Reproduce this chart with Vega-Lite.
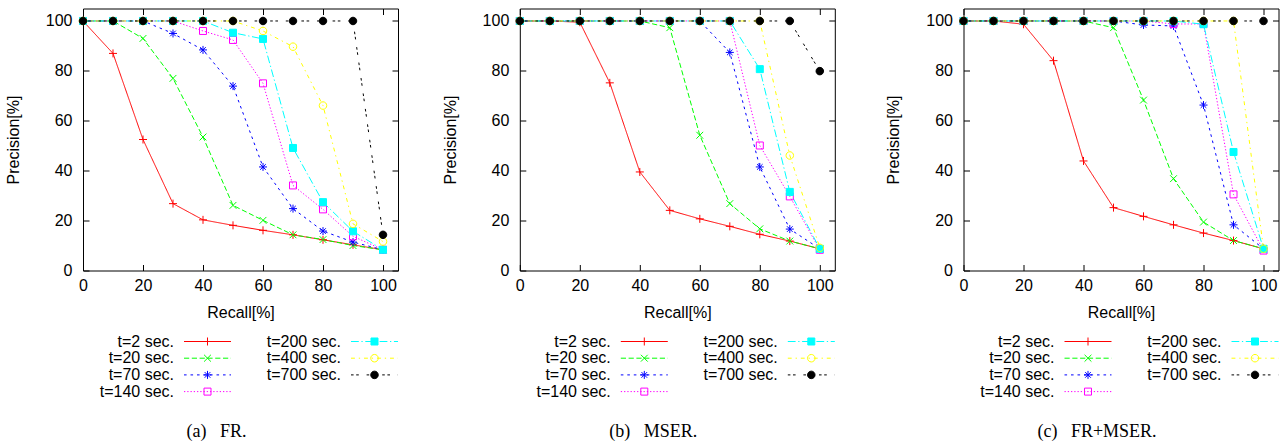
{
"$schema": "https://vega.github.io/schema/vega-lite/v6.json",
"background": "white",
"padding": {"left": 4, "top": 7.5, "right": 0, "bottom": 0},
"datasets": {"pr": [
{"panel":"FR","series":"t=2 sec.","recall":0,"precision":100},{"panel":"FR","series":"t=2 sec.","recall":10,"precision":87},{"panel":"FR","series":"t=2 sec.","recall":20,"precision":52.5},{"panel":"FR","series":"t=2 sec.","recall":30,"precision":26.8},{"panel":"FR","series":"t=2 sec.","recall":40,"precision":20.3},{"panel":"FR","series":"t=2 sec.","recall":50,"precision":18.1},{"panel":"FR","series":"t=2 sec.","recall":60,"precision":16.1},{"panel":"FR","series":"t=2 sec.","recall":70,"precision":14.3},{"panel":"FR","series":"t=2 sec.","recall":80,"precision":12.3},{"panel":"FR","series":"t=2 sec.","recall":90,"precision":10.3},{"panel":"FR","series":"t=2 sec.","recall":100,"precision":8.3},
{"panel":"FR","series":"t=20 sec.","recall":0,"precision":100},{"panel":"FR","series":"t=20 sec.","recall":10,"precision":100},{"panel":"FR","series":"t=20 sec.","recall":20,"precision":93},{"panel":"FR","series":"t=20 sec.","recall":30,"precision":77},{"panel":"FR","series":"t=20 sec.","recall":40,"precision":53.5},{"panel":"FR","series":"t=20 sec.","recall":50,"precision":26.1},{"panel":"FR","series":"t=20 sec.","recall":60,"precision":20.1},{"panel":"FR","series":"t=20 sec.","recall":70,"precision":14.3},{"panel":"FR","series":"t=20 sec.","recall":80,"precision":12.4},{"panel":"FR","series":"t=20 sec.","recall":90,"precision":10},{"panel":"FR","series":"t=20 sec.","recall":100,"precision":8.3},
{"panel":"FR","series":"t=70 sec.","recall":0,"precision":100},{"panel":"FR","series":"t=70 sec.","recall":10,"precision":100},{"panel":"FR","series":"t=70 sec.","recall":20,"precision":100},{"panel":"FR","series":"t=70 sec.","recall":30,"precision":95},{"panel":"FR","series":"t=70 sec.","recall":40,"precision":88.4},{"panel":"FR","series":"t=70 sec.","recall":50,"precision":73.9},{"panel":"FR","series":"t=70 sec.","recall":60,"precision":41.5},{"panel":"FR","series":"t=70 sec.","recall":70,"precision":24.8},{"panel":"FR","series":"t=70 sec.","recall":80,"precision":15.8},{"panel":"FR","series":"t=70 sec.","recall":90,"precision":11.4},{"panel":"FR","series":"t=70 sec.","recall":100,"precision":8.3},
{"panel":"FR","series":"t=140 sec.","recall":0,"precision":100},{"panel":"FR","series":"t=140 sec.","recall":10,"precision":100},{"panel":"FR","series":"t=140 sec.","recall":20,"precision":100},{"panel":"FR","series":"t=140 sec.","recall":30,"precision":100},{"panel":"FR","series":"t=140 sec.","recall":40,"precision":96},{"panel":"FR","series":"t=140 sec.","recall":50,"precision":92.4},{"panel":"FR","series":"t=140 sec.","recall":60,"precision":75},{"panel":"FR","series":"t=140 sec.","recall":70,"precision":34.1},{"panel":"FR","series":"t=140 sec.","recall":80,"precision":24.5},{"panel":"FR","series":"t=140 sec.","recall":90,"precision":13.7},{"panel":"FR","series":"t=140 sec.","recall":100,"precision":8.3},
{"panel":"FR","series":"t=200 sec.","recall":0,"precision":100},{"panel":"FR","series":"t=200 sec.","recall":10,"precision":100},{"panel":"FR","series":"t=200 sec.","recall":20,"precision":100},{"panel":"FR","series":"t=200 sec.","recall":30,"precision":100},{"panel":"FR","series":"t=200 sec.","recall":40,"precision":100},{"panel":"FR","series":"t=200 sec.","recall":50,"precision":95.3},{"panel":"FR","series":"t=200 sec.","recall":60,"precision":92.8},{"panel":"FR","series":"t=200 sec.","recall":70,"precision":49.1},{"panel":"FR","series":"t=200 sec.","recall":80,"precision":27.4},{"panel":"FR","series":"t=200 sec.","recall":90,"precision":15.7},{"panel":"FR","series":"t=200 sec.","recall":100,"precision":8.3},
{"panel":"FR","series":"t=400 sec.","recall":0,"precision":100},{"panel":"FR","series":"t=400 sec.","recall":10,"precision":100},{"panel":"FR","series":"t=400 sec.","recall":20,"precision":100},{"panel":"FR","series":"t=400 sec.","recall":30,"precision":100},{"panel":"FR","series":"t=400 sec.","recall":40,"precision":100},{"panel":"FR","series":"t=400 sec.","recall":50,"precision":100},{"panel":"FR","series":"t=400 sec.","recall":60,"precision":96},{"panel":"FR","series":"t=400 sec.","recall":70,"precision":89.7},{"panel":"FR","series":"t=400 sec.","recall":80,"precision":66.1},{"panel":"FR","series":"t=400 sec.","recall":90,"precision":18.7},{"panel":"FR","series":"t=400 sec.","recall":100,"precision":11.6},
{"panel":"FR","series":"t=700 sec.","recall":0,"precision":100},{"panel":"FR","series":"t=700 sec.","recall":10,"precision":100},{"panel":"FR","series":"t=700 sec.","recall":20,"precision":100},{"panel":"FR","series":"t=700 sec.","recall":30,"precision":100},{"panel":"FR","series":"t=700 sec.","recall":40,"precision":100},{"panel":"FR","series":"t=700 sec.","recall":50,"precision":100},{"panel":"FR","series":"t=700 sec.","recall":60,"precision":100},{"panel":"FR","series":"t=700 sec.","recall":70,"precision":100},{"panel":"FR","series":"t=700 sec.","recall":80,"precision":100},{"panel":"FR","series":"t=700 sec.","recall":90,"precision":100},{"panel":"FR","series":"t=700 sec.","recall":100,"precision":14.3},
{"panel":"MSER","series":"t=2 sec.","recall":0,"precision":100},{"panel":"MSER","series":"t=2 sec.","recall":10,"precision":100},{"panel":"MSER","series":"t=2 sec.","recall":20,"precision":99.5},{"panel":"MSER","series":"t=2 sec.","recall":30,"precision":75.2},{"panel":"MSER","series":"t=2 sec.","recall":40,"precision":39.5},{"panel":"MSER","series":"t=2 sec.","recall":50,"precision":24.1},{"panel":"MSER","series":"t=2 sec.","recall":60,"precision":20.7},{"panel":"MSER","series":"t=2 sec.","recall":70,"precision":17.7},{"panel":"MSER","series":"t=2 sec.","recall":80,"precision":14.5},{"panel":"MSER","series":"t=2 sec.","recall":90,"precision":11.8},{"panel":"MSER","series":"t=2 sec.","recall":100,"precision":8.7},
{"panel":"MSER","series":"t=20 sec.","recall":0,"precision":100},{"panel":"MSER","series":"t=20 sec.","recall":10,"precision":100},{"panel":"MSER","series":"t=20 sec.","recall":20,"precision":100},{"panel":"MSER","series":"t=20 sec.","recall":30,"precision":100},{"panel":"MSER","series":"t=20 sec.","recall":40,"precision":100},{"panel":"MSER","series":"t=20 sec.","recall":50,"precision":97.3},{"panel":"MSER","series":"t=20 sec.","recall":60,"precision":54.2},{"panel":"MSER","series":"t=20 sec.","recall":70,"precision":26.8},{"panel":"MSER","series":"t=20 sec.","recall":80,"precision":16.7},{"panel":"MSER","series":"t=20 sec.","recall":90,"precision":11.8},{"panel":"MSER","series":"t=20 sec.","recall":100,"precision":8.7},
{"panel":"MSER","series":"t=70 sec.","recall":0,"precision":100},{"panel":"MSER","series":"t=70 sec.","recall":10,"precision":100},{"panel":"MSER","series":"t=70 sec.","recall":20,"precision":100},{"panel":"MSER","series":"t=70 sec.","recall":30,"precision":100},{"panel":"MSER","series":"t=70 sec.","recall":40,"precision":100},{"panel":"MSER","series":"t=70 sec.","recall":50,"precision":100},{"panel":"MSER","series":"t=70 sec.","recall":60,"precision":100},{"panel":"MSER","series":"t=70 sec.","recall":70,"precision":87.4},{"panel":"MSER","series":"t=70 sec.","recall":80,"precision":41.5},{"panel":"MSER","series":"t=70 sec.","recall":90,"precision":16.6},{"panel":"MSER","series":"t=70 sec.","recall":100,"precision":8.7},
{"panel":"MSER","series":"t=140 sec.","recall":0,"precision":100},{"panel":"MSER","series":"t=140 sec.","recall":10,"precision":100},{"panel":"MSER","series":"t=140 sec.","recall":20,"precision":100},{"panel":"MSER","series":"t=140 sec.","recall":30,"precision":100},{"panel":"MSER","series":"t=140 sec.","recall":40,"precision":100},{"panel":"MSER","series":"t=140 sec.","recall":50,"precision":100},{"panel":"MSER","series":"t=140 sec.","recall":60,"precision":100},{"panel":"MSER","series":"t=140 sec.","recall":70,"precision":100},{"panel":"MSER","series":"t=140 sec.","recall":80,"precision":50.1},{"panel":"MSER","series":"t=140 sec.","recall":90,"precision":29.7},{"panel":"MSER","series":"t=140 sec.","recall":100,"precision":8.3},
{"panel":"MSER","series":"t=200 sec.","recall":0,"precision":100},{"panel":"MSER","series":"t=200 sec.","recall":10,"precision":100},{"panel":"MSER","series":"t=200 sec.","recall":20,"precision":100},{"panel":"MSER","series":"t=200 sec.","recall":30,"precision":100},{"panel":"MSER","series":"t=200 sec.","recall":40,"precision":100},{"panel":"MSER","series":"t=200 sec.","recall":50,"precision":100},{"panel":"MSER","series":"t=200 sec.","recall":60,"precision":100},{"panel":"MSER","series":"t=200 sec.","recall":70,"precision":100},{"panel":"MSER","series":"t=200 sec.","recall":80,"precision":80.7},{"panel":"MSER","series":"t=200 sec.","recall":90,"precision":31.5},{"panel":"MSER","series":"t=200 sec.","recall":100,"precision":8.7},
{"panel":"MSER","series":"t=400 sec.","recall":0,"precision":100},{"panel":"MSER","series":"t=400 sec.","recall":10,"precision":100},{"panel":"MSER","series":"t=400 sec.","recall":20,"precision":100},{"panel":"MSER","series":"t=400 sec.","recall":30,"precision":100},{"panel":"MSER","series":"t=400 sec.","recall":40,"precision":100},{"panel":"MSER","series":"t=400 sec.","recall":50,"precision":100},{"panel":"MSER","series":"t=400 sec.","recall":60,"precision":100},{"panel":"MSER","series":"t=400 sec.","recall":70,"precision":100},{"panel":"MSER","series":"t=400 sec.","recall":80,"precision":100},{"panel":"MSER","series":"t=400 sec.","recall":90,"precision":46.1},{"panel":"MSER","series":"t=400 sec.","recall":100,"precision":9.1},
{"panel":"MSER","series":"t=700 sec.","recall":0,"precision":100},{"panel":"MSER","series":"t=700 sec.","recall":10,"precision":100},{"panel":"MSER","series":"t=700 sec.","recall":20,"precision":100},{"panel":"MSER","series":"t=700 sec.","recall":30,"precision":100},{"panel":"MSER","series":"t=700 sec.","recall":40,"precision":100},{"panel":"MSER","series":"t=700 sec.","recall":50,"precision":100},{"panel":"MSER","series":"t=700 sec.","recall":60,"precision":100},{"panel":"MSER","series":"t=700 sec.","recall":70,"precision":100},{"panel":"MSER","series":"t=700 sec.","recall":80,"precision":100},{"panel":"MSER","series":"t=700 sec.","recall":90,"precision":100},{"panel":"MSER","series":"t=700 sec.","recall":100,"precision":79.9},
{"panel":"FRM","series":"t=2 sec.","recall":0,"precision":100},{"panel":"FRM","series":"t=2 sec.","recall":10,"precision":100},{"panel":"FRM","series":"t=2 sec.","recall":20,"precision":98.7},{"panel":"FRM","series":"t=2 sec.","recall":30,"precision":84.1},{"panel":"FRM","series":"t=2 sec.","recall":40,"precision":43.9},{"panel":"FRM","series":"t=2 sec.","recall":50,"precision":25.2},{"panel":"FRM","series":"t=2 sec.","recall":60,"precision":21.7},{"panel":"FRM","series":"t=2 sec.","recall":70,"precision":18.3},{"panel":"FRM","series":"t=2 sec.","recall":80,"precision":15},{"panel":"FRM","series":"t=2 sec.","recall":90,"precision":12},{"panel":"FRM","series":"t=2 sec.","recall":100,"precision":8.7},
{"panel":"FRM","series":"t=20 sec.","recall":0,"precision":100},{"panel":"FRM","series":"t=20 sec.","recall":10,"precision":100},{"panel":"FRM","series":"t=20 sec.","recall":20,"precision":100},{"panel":"FRM","series":"t=20 sec.","recall":30,"precision":100},{"panel":"FRM","series":"t=20 sec.","recall":40,"precision":100},{"panel":"FRM","series":"t=20 sec.","recall":50,"precision":97.3},{"panel":"FRM","series":"t=20 sec.","recall":60,"precision":68.3},{"panel":"FRM","series":"t=20 sec.","recall":70,"precision":36.8},{"panel":"FRM","series":"t=20 sec.","recall":80,"precision":19.4},{"panel":"FRM","series":"t=20 sec.","recall":90,"precision":12},{"panel":"FRM","series":"t=20 sec.","recall":100,"precision":8.7},
{"panel":"FRM","series":"t=70 sec.","recall":0,"precision":100},{"panel":"FRM","series":"t=70 sec.","recall":10,"precision":100},{"panel":"FRM","series":"t=70 sec.","recall":20,"precision":100},{"panel":"FRM","series":"t=70 sec.","recall":30,"precision":100},{"panel":"FRM","series":"t=70 sec.","recall":40,"precision":100},{"panel":"FRM","series":"t=70 sec.","recall":50,"precision":100},{"panel":"FRM","series":"t=70 sec.","recall":60,"precision":98.4},{"panel":"FRM","series":"t=70 sec.","recall":70,"precision":98},{"panel":"FRM","series":"t=70 sec.","recall":80,"precision":66.3},{"panel":"FRM","series":"t=70 sec.","recall":90,"precision":18.3},{"panel":"FRM","series":"t=70 sec.","recall":100,"precision":8.7},
{"panel":"FRM","series":"t=140 sec.","recall":0,"precision":100},{"panel":"FRM","series":"t=140 sec.","recall":10,"precision":100},{"panel":"FRM","series":"t=140 sec.","recall":20,"precision":100},{"panel":"FRM","series":"t=140 sec.","recall":30,"precision":100},{"panel":"FRM","series":"t=140 sec.","recall":40,"precision":100},{"panel":"FRM","series":"t=140 sec.","recall":50,"precision":100},{"panel":"FRM","series":"t=140 sec.","recall":60,"precision":100},{"panel":"FRM","series":"t=140 sec.","recall":70,"precision":98.8},{"panel":"FRM","series":"t=140 sec.","recall":80,"precision":98.8},{"panel":"FRM","series":"t=140 sec.","recall":90,"precision":30.5},{"panel":"FRM","series":"t=140 sec.","recall":100,"precision":8},
{"panel":"FRM","series":"t=200 sec.","recall":0,"precision":100},{"panel":"FRM","series":"t=200 sec.","recall":10,"precision":100},{"panel":"FRM","series":"t=200 sec.","recall":20,"precision":100},{"panel":"FRM","series":"t=200 sec.","recall":30,"precision":100},{"panel":"FRM","series":"t=200 sec.","recall":40,"precision":100},{"panel":"FRM","series":"t=200 sec.","recall":50,"precision":100},{"panel":"FRM","series":"t=200 sec.","recall":60,"precision":100},{"panel":"FRM","series":"t=200 sec.","recall":70,"precision":100},{"panel":"FRM","series":"t=200 sec.","recall":80,"precision":98.7},{"panel":"FRM","series":"t=200 sec.","recall":90,"precision":47.5},{"panel":"FRM","series":"t=200 sec.","recall":100,"precision":8.7},
{"panel":"FRM","series":"t=400 sec.","recall":0,"precision":100},{"panel":"FRM","series":"t=400 sec.","recall":10,"precision":100},{"panel":"FRM","series":"t=400 sec.","recall":20,"precision":100},{"panel":"FRM","series":"t=400 sec.","recall":30,"precision":100},{"panel":"FRM","series":"t=400 sec.","recall":40,"precision":100},{"panel":"FRM","series":"t=400 sec.","recall":50,"precision":100},{"panel":"FRM","series":"t=400 sec.","recall":60,"precision":100},{"panel":"FRM","series":"t=400 sec.","recall":70,"precision":100},{"panel":"FRM","series":"t=400 sec.","recall":80,"precision":100},{"panel":"FRM","series":"t=400 sec.","recall":90,"precision":100},{"panel":"FRM","series":"t=400 sec.","recall":100,"precision":8.7},
{"panel":"FRM","series":"t=700 sec.","recall":0,"precision":100},{"panel":"FRM","series":"t=700 sec.","recall":10,"precision":100},{"panel":"FRM","series":"t=700 sec.","recall":20,"precision":100},{"panel":"FRM","series":"t=700 sec.","recall":30,"precision":100},{"panel":"FRM","series":"t=700 sec.","recall":40,"precision":100},{"panel":"FRM","series":"t=700 sec.","recall":50,"precision":100},{"panel":"FRM","series":"t=700 sec.","recall":60,"precision":100},{"panel":"FRM","series":"t=700 sec.","recall":70,"precision":100},{"panel":"FRM","series":"t=700 sec.","recall":80,"precision":100},{"panel":"FRM","series":"t=700 sec.","recall":90,"precision":100},{"panel":"FRM","series":"t=700 sec.","recall":100,"precision":100}
]},
"hconcat": [
 {"hconcat": [
  {"width": 315, "height": 262,
   "title": {"text": "(a)\u2002 FR.", "orient": "bottom", "anchor": "middle", "frame": "group", "font": "Liberation Serif", "fontSize": 18, "fontWeight": "normal", "color": "black", "offset": 22, "dx": -24},
   "data": {"name": "pr"},
   "transform": [{"filter": "datum.panel === 'FR'"}],
   "resolve": {"scale": {"shape": "independent", "stroke": "independent", "fill": "independent"}, "legend": {"shape": "independent", "stroke": "independent", "fill": "independent"}, "axis": {"x": "independent", "y": "independent"}},
   "layer": [
    {"mark": {"type": "line", "strokeWidth": 1},
     "encoding": {
      "x": {"field": "recall", "type": "quantitative", "scale": {"domain": [0, 105], "nice": false, "zero": false}, "axis": {"orient": "bottom", "values": [0, 20, 40, 60, 80, 100], "title": "Recall[%]", "labelPadding": 13, "titlePadding": 11, "labelFlush": false}},
      "y": {"field": "precision", "type": "quantitative", "scale": {"domain": [0, 105], "nice": false, "zero": false}, "axis": {"orient": "left", "values": [0, 20, 40, 60, 80, 100], "title": "Precision[%]", "labelPadding": 17, "titlePadding": 24}},
      "color": {"field": "series", "type": "nominal", "scale": {"domain": ["t=2 sec.", "t=20 sec.", "t=70 sec.", "t=140 sec.", "t=200 sec.", "t=400 sec.", "t=700 sec."], "range": ["#ff0000", "#00ff00", "#0000ff", "#ff00ff", "#00ffff", "#ffff00", "#000000"]}, "legend": null},
      "strokeDash": {"field": "series", "type": "nominal", "scale": {"domain": ["t=2 sec.", "t=20 sec.", "t=70 sec.", "t=140 sec.", "t=200 sec.", "t=400 sec.", "t=700 sec."], "range": [[1, 0], [5.2, 2.6], [2.6, 3.9], [1.3, 1.95], [7.8, 2.6, 1.3, 2.6], [3.9, 3.9, 1.3, 3.9], [2.6, 2.6, 2.6, 7.8]]}, "legend": null}
     }},
    {"mark": {"type": "point", "size": 64, "strokeWidth": 1, "opacity": 1},
     "encoding": {
      "x": {"field": "recall", "type": "quantitative", "axis": {"orient": "top", "values": [0, 20, 40, 60, 80, 100], "labels": false, "title": null}},
      "y": {"field": "precision", "type": "quantitative", "axis": {"orient": "right", "values": [0, 20, 40, 60, 80, 100], "labels": false, "title": null}},
      "stroke": {"field": "series", "type": "nominal", "scale": {"domain": ["t=2 sec.", "t=20 sec.", "t=70 sec.", "t=140 sec.", "t=200 sec.", "t=400 sec.", "t=700 sec."], "range": ["#ff0000", "#00ff00", "#0000ff", "#ff00ff", "#00ffff", "#ffff00", "#000000"]}, "legend": null},
      "fill": {"field": "series", "type": "nominal", "scale": {"domain": ["t=2 sec.", "t=20 sec.", "t=70 sec.", "t=140 sec.", "t=200 sec.", "t=400 sec.", "t=700 sec."], "range": ["transparent", "transparent", "transparent", "transparent", "#00ffff", "transparent", "#000000"]}, "legend": null},
      "shape": {"field": "series", "type": "nominal", "scale": {"domain": ["t=2 sec.", "t=20 sec.", "t=70 sec.", "t=140 sec.", "t=200 sec.", "t=400 sec.", "t=700 sec."], "range": ["M-1,0L1,0M0,-1L0,1", "M-0.85,-0.85L0.85,0.85M-0.85,0.85L0.85,-0.85", "M-1,0L1,0M0,-1L0,1M-0.7,-0.7L0.7,0.7M-0.7,0.7L0.7,-0.7", "M-0.875,-0.875L0.875,-0.875L0.875,0.875L-0.875,0.875Z", "M-0.875,-0.875L0.875,-0.875L0.875,0.875L-0.875,0.875Z", "M0.94,0A0.94,0.94,0,1,1,-0.94,0A0.94,0.94,0,1,1,0.94,0Z", "M0.94,0A0.94,0.94,0,1,1,-0.94,0A0.94,0.94,0,1,1,0.94,0Z"]}, "legend": null}
     }},
    {"transform": [{"filter": "false"}],
     "mark": {"type": "point", "size": 88.36, "strokeWidth": 1, "opacity": 1},
     "encoding": {
      "shape": {"field": "series", "type": "nominal", "scale": {"domain": ["t=2 sec.", "t=20 sec.", "t=70 sec.", "t=140 sec.", "t=200 sec.", "t=400 sec.", "t=700 sec."], "range": [
        "M-24.255,0M5,0M-5,0L5,0M-0.85,0L0.85,0M0,-0.85L0,0.85",
        "M-24.255,0M5,0M-5,0L-3.895,0M-3.34,0L-2.235,0M-1.68,0L-0.575,0M-0.02,0L1.085,0M1.64,0L2.745,0M3.3,0L4.405,0M4.955,0L5,0M-0.725,-0.725L0.725,0.725M-0.725,0.725L0.725,-0.725",
        "M-24.255,0M5,0M-5,0L-4.445,0M-3.615,0L-3.065,0M-2.235,0L-1.68,0M-0.85,0L-0.3,0M0.53,0L1.085,0M1.915,0L2.47,0M3.3,0L3.85,0M4.68,0L5,0M-0.85,0L0.85,0M0,-0.85L0,0.85M-0.6,-0.6L0.6,0.6M-0.6,0.6L0.6,-0.6",
        "M-24.255,0M5,0M-5,0L-4.725,0M-4.31,0L-4.03,0M-3.615,0L-3.34,0M-2.925,0L-2.65,0M-2.235,0L-1.955,0M-1.545,0L-1.265,0M-0.85,0L-0.575,0M-0.16,0L0.115,0M0.53,0L0.81,0M1.225,0L1.5,0M1.915,0L2.19,0M2.605,0L2.885,0M3.3,0L3.575,0M3.99,0L4.265,0M4.68,0L4.955,0M-0.745,-0.745L0.745,-0.745L0.745,0.745L-0.745,0.745Z",
        "M-24.255,0M5,0M-5,0L-3.34,0M-2.785,0L-2.51,0M-1.955,0L-0.3,0M0.255,0L0.53,0M1.085,0L2.745,0M3.3,0L3.575,0M4.13,0L5,0M-0.745,-0.745L0.745,-0.745L0.745,0.745L-0.745,0.745Z",
        "M-24.255,0M5,0M-5,0L-4.17,0M-3.34,0L-3.065,0M-2.235,0L-1.405,0M-0.575,0L-0.3,0M0.53,0L1.36,0M2.19,0L2.47,0M3.3,0L4.13,0M4.955,0L5,0M0.8,0A0.8,0.8,0,1,1,-0.8,0A0.8,0.8,0,1,1,0.8,0Z",
        "M-24.255,0M5,0M-5,0L-4.445,0M-3.895,0L-3.34,0M-1.68,0L-1.13,0M-0.575,0L-0.02,0M1.64,0L2.19,0M2.745,0L3.3,0M4.955,0L5,0M0.8,0A0.8,0.8,0,1,1,-0.8,0A0.8,0.8,0,1,1,0.8,0Z"]},
       "legend": {"orient": "none", "legendX": 116.5, "legendY": 325, "columns": 2, "direction": "vertical", "title": null, "padding": 0, "symbolSize": 88.36, "symbolStrokeWidth": 1, "symbolOffset": 0, "labelFont": "Liberation Sans", "labelFontSize": 16, "labelColor": "black", "labelAlign": "right", "labelOffset": -41.5, "labelLimit": 300, "rowPadding": 0.7, "columnPadding": 25}},
      "stroke": {"field": "series", "type": "nominal", "scale": {"domain": ["t=2 sec.", "t=20 sec.", "t=70 sec.", "t=140 sec.", "t=200 sec.", "t=400 sec.", "t=700 sec."], "range": ["#ff0000", "#00ff00", "#0000ff", "#ff00ff", "#00ffff", "#ffff00", "#000000"]},
       "legend": {"orient": "none", "legendX": 116.5, "legendY": 325, "columns": 2, "direction": "vertical", "title": null, "padding": 0, "symbolSize": 88.36, "symbolStrokeWidth": 1, "symbolOffset": 0, "labelFont": "Liberation Sans", "labelFontSize": 16, "labelColor": "black", "labelAlign": "right", "labelOffset": -41.5, "labelLimit": 300, "rowPadding": 0.7, "columnPadding": 25}},
      "fill": {"field": "series", "type": "nominal", "scale": {"domain": ["t=2 sec.", "t=20 sec.", "t=70 sec.", "t=140 sec.", "t=200 sec.", "t=400 sec.", "t=700 sec."], "range": ["transparent", "transparent", "transparent", "transparent", "#00ffff", "transparent", "#000000"]},
       "legend": {"orient": "none", "legendX": 116.5, "legendY": 325, "columns": 2, "direction": "vertical", "title": null, "padding": 0, "symbolSize": 88.36, "symbolStrokeWidth": 1, "symbolOffset": 0, "labelFont": "Liberation Sans", "labelFontSize": 16, "labelColor": "black", "labelAlign": "right", "labelOffset": -41.5, "labelLimit": 300, "rowPadding": 0.7, "columnPadding": 25}}
     }}
   ]},
  {"width": 315, "height": 262,
   "title": {"text": "(b)\u2002 MSER.", "orient": "bottom", "anchor": "middle", "frame": "group", "font": "Liberation Serif", "fontSize": 18, "fontWeight": "normal", "color": "black", "offset": 22, "dx": -24},
   "data": {"name": "pr"},
   "transform": [{"filter": "datum.panel === 'MSER'"}],
   "resolve": {"scale": {"shape": "independent", "stroke": "independent", "fill": "independent"}, "legend": {"shape": "independent", "stroke": "independent", "fill": "independent"}, "axis": {"x": "independent", "y": "independent"}},
   "layer": [
    {"mark": {"type": "line", "strokeWidth": 1},
     "encoding": {
      "x": {"field": "recall", "type": "quantitative", "scale": {"domain": [0, 105], "nice": false, "zero": false}, "axis": {"orient": "bottom", "values": [0, 20, 40, 60, 80, 100], "title": "Recall[%]", "labelPadding": 13, "titlePadding": 11, "labelFlush": false}},
      "y": {"field": "precision", "type": "quantitative", "scale": {"domain": [0, 105], "nice": false, "zero": false}, "axis": {"orient": "left", "values": [0, 20, 40, 60, 80, 100], "title": "Precision[%]", "labelPadding": 17, "titlePadding": 24}},
      "color": {"field": "series", "type": "nominal", "scale": {"domain": ["t=2 sec.", "t=20 sec.", "t=70 sec.", "t=140 sec.", "t=200 sec.", "t=400 sec.", "t=700 sec."], "range": ["#ff0000", "#00ff00", "#0000ff", "#ff00ff", "#00ffff", "#ffff00", "#000000"]}, "legend": null},
      "strokeDash": {"field": "series", "type": "nominal", "scale": {"domain": ["t=2 sec.", "t=20 sec.", "t=70 sec.", "t=140 sec.", "t=200 sec.", "t=400 sec.", "t=700 sec."], "range": [[1, 0], [5.2, 2.6], [2.6, 3.9], [1.3, 1.95], [7.8, 2.6, 1.3, 2.6], [3.9, 3.9, 1.3, 3.9], [2.6, 2.6, 2.6, 7.8]]}, "legend": null}
     }},
    {"mark": {"type": "point", "size": 64, "strokeWidth": 1, "opacity": 1},
     "encoding": {
      "x": {"field": "recall", "type": "quantitative", "axis": {"orient": "top", "values": [0, 20, 40, 60, 80, 100], "labels": false, "title": null}},
      "y": {"field": "precision", "type": "quantitative", "axis": {"orient": "right", "values": [0, 20, 40, 60, 80, 100], "labels": false, "title": null}},
      "stroke": {"field": "series", "type": "nominal", "scale": {"domain": ["t=2 sec.", "t=20 sec.", "t=70 sec.", "t=140 sec.", "t=200 sec.", "t=400 sec.", "t=700 sec."], "range": ["#ff0000", "#00ff00", "#0000ff", "#ff00ff", "#00ffff", "#ffff00", "#000000"]}, "legend": null},
      "fill": {"field": "series", "type": "nominal", "scale": {"domain": ["t=2 sec.", "t=20 sec.", "t=70 sec.", "t=140 sec.", "t=200 sec.", "t=400 sec.", "t=700 sec."], "range": ["transparent", "transparent", "transparent", "transparent", "#00ffff", "transparent", "#000000"]}, "legend": null},
      "shape": {"field": "series", "type": "nominal", "scale": {"domain": ["t=2 sec.", "t=20 sec.", "t=70 sec.", "t=140 sec.", "t=200 sec.", "t=400 sec.", "t=700 sec."], "range": ["M-1,0L1,0M0,-1L0,1", "M-0.85,-0.85L0.85,0.85M-0.85,0.85L0.85,-0.85", "M-1,0L1,0M0,-1L0,1M-0.7,-0.7L0.7,0.7M-0.7,0.7L0.7,-0.7", "M-0.875,-0.875L0.875,-0.875L0.875,0.875L-0.875,0.875Z", "M-0.875,-0.875L0.875,-0.875L0.875,0.875L-0.875,0.875Z", "M0.94,0A0.94,0.94,0,1,1,-0.94,0A0.94,0.94,0,1,1,0.94,0Z", "M0.94,0A0.94,0.94,0,1,1,-0.94,0A0.94,0.94,0,1,1,0.94,0Z"]}, "legend": null}
     }},
    {"transform": [{"filter": "false"}],
     "mark": {"type": "point", "size": 88.36, "strokeWidth": 1, "opacity": 1},
     "encoding": {
      "shape": {"field": "series", "type": "nominal", "scale": {"domain": ["t=2 sec.", "t=20 sec.", "t=70 sec.", "t=140 sec.", "t=200 sec.", "t=400 sec.", "t=700 sec."], "range": [
        "M-24.255,0M5,0M-5,0L5,0M-0.85,0L0.85,0M0,-0.85L0,0.85",
        "M-24.255,0M5,0M-5,0L-3.895,0M-3.34,0L-2.235,0M-1.68,0L-0.575,0M-0.02,0L1.085,0M1.64,0L2.745,0M3.3,0L4.405,0M4.955,0L5,0M-0.725,-0.725L0.725,0.725M-0.725,0.725L0.725,-0.725",
        "M-24.255,0M5,0M-5,0L-4.445,0M-3.615,0L-3.065,0M-2.235,0L-1.68,0M-0.85,0L-0.3,0M0.53,0L1.085,0M1.915,0L2.47,0M3.3,0L3.85,0M4.68,0L5,0M-0.85,0L0.85,0M0,-0.85L0,0.85M-0.6,-0.6L0.6,0.6M-0.6,0.6L0.6,-0.6",
        "M-24.255,0M5,0M-5,0L-4.725,0M-4.31,0L-4.03,0M-3.615,0L-3.34,0M-2.925,0L-2.65,0M-2.235,0L-1.955,0M-1.545,0L-1.265,0M-0.85,0L-0.575,0M-0.16,0L0.115,0M0.53,0L0.81,0M1.225,0L1.5,0M1.915,0L2.19,0M2.605,0L2.885,0M3.3,0L3.575,0M3.99,0L4.265,0M4.68,0L4.955,0M-0.745,-0.745L0.745,-0.745L0.745,0.745L-0.745,0.745Z",
        "M-24.255,0M5,0M-5,0L-3.34,0M-2.785,0L-2.51,0M-1.955,0L-0.3,0M0.255,0L0.53,0M1.085,0L2.745,0M3.3,0L3.575,0M4.13,0L5,0M-0.745,-0.745L0.745,-0.745L0.745,0.745L-0.745,0.745Z",
        "M-24.255,0M5,0M-5,0L-4.17,0M-3.34,0L-3.065,0M-2.235,0L-1.405,0M-0.575,0L-0.3,0M0.53,0L1.36,0M2.19,0L2.47,0M3.3,0L4.13,0M4.955,0L5,0M0.8,0A0.8,0.8,0,1,1,-0.8,0A0.8,0.8,0,1,1,0.8,0Z",
        "M-24.255,0M5,0M-5,0L-4.445,0M-3.895,0L-3.34,0M-1.68,0L-1.13,0M-0.575,0L-0.02,0M1.64,0L2.19,0M2.745,0L3.3,0M4.955,0L5,0M0.8,0A0.8,0.8,0,1,1,-0.8,0A0.8,0.8,0,1,1,0.8,0Z"]},
       "legend": {"orient": "none", "legendX": 116.5, "legendY": 325, "columns": 2, "direction": "vertical", "title": null, "padding": 0, "symbolSize": 88.36, "symbolStrokeWidth": 1, "symbolOffset": 0, "labelFont": "Liberation Sans", "labelFontSize": 16, "labelColor": "black", "labelAlign": "right", "labelOffset": -41.5, "labelLimit": 300, "rowPadding": 0.7, "columnPadding": 25}},
      "stroke": {"field": "series", "type": "nominal", "scale": {"domain": ["t=2 sec.", "t=20 sec.", "t=70 sec.", "t=140 sec.", "t=200 sec.", "t=400 sec.", "t=700 sec."], "range": ["#ff0000", "#00ff00", "#0000ff", "#ff00ff", "#00ffff", "#ffff00", "#000000"]},
       "legend": {"orient": "none", "legendX": 116.5, "legendY": 325, "columns": 2, "direction": "vertical", "title": null, "padding": 0, "symbolSize": 88.36, "symbolStrokeWidth": 1, "symbolOffset": 0, "labelFont": "Liberation Sans", "labelFontSize": 16, "labelColor": "black", "labelAlign": "right", "labelOffset": -41.5, "labelLimit": 300, "rowPadding": 0.7, "columnPadding": 25}},
      "fill": {"field": "series", "type": "nominal", "scale": {"domain": ["t=2 sec.", "t=20 sec.", "t=70 sec.", "t=140 sec.", "t=200 sec.", "t=400 sec.", "t=700 sec."], "range": ["transparent", "transparent", "transparent", "transparent", "#00ffff", "transparent", "#000000"]},
       "legend": {"orient": "none", "legendX": 116.5, "legendY": 325, "columns": 2, "direction": "vertical", "title": null, "padding": 0, "symbolSize": 88.36, "symbolStrokeWidth": 1, "symbolOffset": 0, "labelFont": "Liberation Sans", "labelFontSize": 16, "labelColor": "black", "labelAlign": "right", "labelOffset": -41.5, "labelLimit": 300, "rowPadding": 0.7, "columnPadding": 25}}
     }}
   ]}
  ],
  "spacing": 39.8,
  "resolve": {"scale": {"color": "independent", "strokeDash": "independent", "shape": "independent", "stroke": "independent", "fill": "independent"}, "legend": {"color": "independent", "strokeDash": "independent", "shape": "independent", "stroke": "independent", "fill": "independent"}}
 },
 {"width": 315, "height": 262,
  "title": {"text": "(c)\u2002 FR+MSER.", "orient": "bottom", "anchor": "middle", "frame": "group", "font": "Liberation Serif", "fontSize": 18, "fontWeight": "normal", "color": "black", "offset": 22, "dx": -24},
  "data": {"name": "pr"},
  "transform": [{"filter": "datum.panel === 'FRM'"}],
  "resolve": {"scale": {"shape": "independent", "stroke": "independent", "fill": "independent"}, "legend": {"shape": "independent", "stroke": "independent", "fill": "independent"}, "axis": {"x": "independent", "y": "independent"}},
  "layer": [
    {"mark": {"type": "line", "strokeWidth": 1},
     "encoding": {
      "x": {"field": "recall", "type": "quantitative", "scale": {"domain": [0, 105], "nice": false, "zero": false}, "axis": {"orient": "bottom", "values": [0, 20, 40, 60, 80, 100], "title": "Recall[%]", "labelPadding": 13, "titlePadding": 11, "labelFlush": false}},
      "y": {"field": "precision", "type": "quantitative", "scale": {"domain": [0, 105], "nice": false, "zero": false}, "axis": {"orient": "left", "values": [0, 20, 40, 60, 80, 100], "title": "Precision[%]", "labelPadding": 17, "titlePadding": 24}},
      "color": {"field": "series", "type": "nominal", "scale": {"domain": ["t=2 sec.", "t=20 sec.", "t=70 sec.", "t=140 sec.", "t=200 sec.", "t=400 sec.", "t=700 sec."], "range": ["#ff0000", "#00ff00", "#0000ff", "#ff00ff", "#00ffff", "#ffff00", "#000000"]}, "legend": null},
      "strokeDash": {"field": "series", "type": "nominal", "scale": {"domain": ["t=2 sec.", "t=20 sec.", "t=70 sec.", "t=140 sec.", "t=200 sec.", "t=400 sec.", "t=700 sec."], "range": [[1, 0], [5.2, 2.6], [2.6, 3.9], [1.3, 1.95], [7.8, 2.6, 1.3, 2.6], [3.9, 3.9, 1.3, 3.9], [2.6, 2.6, 2.6, 7.8]]}, "legend": null}
     }},
    {"mark": {"type": "point", "size": 64, "strokeWidth": 1, "opacity": 1},
     "encoding": {
      "x": {"field": "recall", "type": "quantitative", "axis": {"orient": "top", "values": [0, 20, 40, 60, 80, 100], "labels": false, "title": null}},
      "y": {"field": "precision", "type": "quantitative", "axis": {"orient": "right", "values": [0, 20, 40, 60, 80, 100], "labels": false, "title": null}},
      "stroke": {"field": "series", "type": "nominal", "scale": {"domain": ["t=2 sec.", "t=20 sec.", "t=70 sec.", "t=140 sec.", "t=200 sec.", "t=400 sec.", "t=700 sec."], "range": ["#ff0000", "#00ff00", "#0000ff", "#ff00ff", "#00ffff", "#ffff00", "#000000"]}, "legend": null},
      "fill": {"field": "series", "type": "nominal", "scale": {"domain": ["t=2 sec.", "t=20 sec.", "t=70 sec.", "t=140 sec.", "t=200 sec.", "t=400 sec.", "t=700 sec."], "range": ["transparent", "transparent", "transparent", "transparent", "#00ffff", "transparent", "#000000"]}, "legend": null},
      "shape": {"field": "series", "type": "nominal", "scale": {"domain": ["t=2 sec.", "t=20 sec.", "t=70 sec.", "t=140 sec.", "t=200 sec.", "t=400 sec.", "t=700 sec."], "range": ["M-1,0L1,0M0,-1L0,1", "M-0.85,-0.85L0.85,0.85M-0.85,0.85L0.85,-0.85", "M-1,0L1,0M0,-1L0,1M-0.7,-0.7L0.7,0.7M-0.7,0.7L0.7,-0.7", "M-0.875,-0.875L0.875,-0.875L0.875,0.875L-0.875,0.875Z", "M-0.875,-0.875L0.875,-0.875L0.875,0.875L-0.875,0.875Z", "M0.94,0A0.94,0.94,0,1,1,-0.94,0A0.94,0.94,0,1,1,0.94,0Z", "M0.94,0A0.94,0.94,0,1,1,-0.94,0A0.94,0.94,0,1,1,0.94,0Z"]}, "legend": null}
     }},
    {"transform": [{"filter": "false"}],
     "mark": {"type": "point", "size": 88.36, "strokeWidth": 1, "opacity": 1},
     "encoding": {
      "shape": {"field": "series", "type": "nominal", "scale": {"domain": ["t=2 sec.", "t=20 sec.", "t=70 sec.", "t=140 sec.", "t=200 sec.", "t=400 sec.", "t=700 sec."], "range": [
        "M-24.255,0M5,0M-5,0L5,0M-0.85,0L0.85,0M0,-0.85L0,0.85",
        "M-24.255,0M5,0M-5,0L-3.895,0M-3.34,0L-2.235,0M-1.68,0L-0.575,0M-0.02,0L1.085,0M1.64,0L2.745,0M3.3,0L4.405,0M4.955,0L5,0M-0.725,-0.725L0.725,0.725M-0.725,0.725L0.725,-0.725",
        "M-24.255,0M5,0M-5,0L-4.445,0M-3.615,0L-3.065,0M-2.235,0L-1.68,0M-0.85,0L-0.3,0M0.53,0L1.085,0M1.915,0L2.47,0M3.3,0L3.85,0M4.68,0L5,0M-0.85,0L0.85,0M0,-0.85L0,0.85M-0.6,-0.6L0.6,0.6M-0.6,0.6L0.6,-0.6",
        "M-24.255,0M5,0M-5,0L-4.725,0M-4.31,0L-4.03,0M-3.615,0L-3.34,0M-2.925,0L-2.65,0M-2.235,0L-1.955,0M-1.545,0L-1.265,0M-0.85,0L-0.575,0M-0.16,0L0.115,0M0.53,0L0.81,0M1.225,0L1.5,0M1.915,0L2.19,0M2.605,0L2.885,0M3.3,0L3.575,0M3.99,0L4.265,0M4.68,0L4.955,0M-0.745,-0.745L0.745,-0.745L0.745,0.745L-0.745,0.745Z",
        "M-24.255,0M5,0M-5,0L-3.34,0M-2.785,0L-2.51,0M-1.955,0L-0.3,0M0.255,0L0.53,0M1.085,0L2.745,0M3.3,0L3.575,0M4.13,0L5,0M-0.745,-0.745L0.745,-0.745L0.745,0.745L-0.745,0.745Z",
        "M-24.255,0M5,0M-5,0L-4.17,0M-3.34,0L-3.065,0M-2.235,0L-1.405,0M-0.575,0L-0.3,0M0.53,0L1.36,0M2.19,0L2.47,0M3.3,0L4.13,0M4.955,0L5,0M0.8,0A0.8,0.8,0,1,1,-0.8,0A0.8,0.8,0,1,1,0.8,0Z",
        "M-24.255,0M5,0M-5,0L-4.445,0M-3.895,0L-3.34,0M-1.68,0L-1.13,0M-0.575,0L-0.02,0M1.64,0L2.19,0M2.745,0L3.3,0M4.955,0L5,0M0.8,0A0.8,0.8,0,1,1,-0.8,0A0.8,0.8,0,1,1,0.8,0Z"]},
       "legend": {"orient": "none", "legendX": 116.5, "legendY": 325, "columns": 2, "direction": "vertical", "title": null, "padding": 0, "symbolSize": 88.36, "symbolStrokeWidth": 1, "symbolOffset": 0, "labelFont": "Liberation Sans", "labelFontSize": 16, "labelColor": "black", "labelAlign": "right", "labelOffset": -41.5, "labelLimit": 300, "rowPadding": 0.7, "columnPadding": 25}},
      "stroke": {"field": "series", "type": "nominal", "scale": {"domain": ["t=2 sec.", "t=20 sec.", "t=70 sec.", "t=140 sec.", "t=200 sec.", "t=400 sec.", "t=700 sec."], "range": ["#ff0000", "#00ff00", "#0000ff", "#ff00ff", "#00ffff", "#ffff00", "#000000"]},
       "legend": {"orient": "none", "legendX": 116.5, "legendY": 325, "columns": 2, "direction": "vertical", "title": null, "padding": 0, "symbolSize": 88.36, "symbolStrokeWidth": 1, "symbolOffset": 0, "labelFont": "Liberation Sans", "labelFontSize": 16, "labelColor": "black", "labelAlign": "right", "labelOffset": -41.5, "labelLimit": 300, "rowPadding": 0.7, "columnPadding": 25}},
      "fill": {"field": "series", "type": "nominal", "scale": {"domain": ["t=2 sec.", "t=20 sec.", "t=70 sec.", "t=140 sec.", "t=200 sec.", "t=400 sec.", "t=700 sec."], "range": ["transparent", "transparent", "transparent", "transparent", "#00ffff", "transparent", "#000000"]},
       "legend": {"orient": "none", "legendX": 116.5, "legendY": 325, "columns": 2, "direction": "vertical", "title": null, "padding": 0, "symbolSize": 88.36, "symbolStrokeWidth": 1, "symbolOffset": 0, "labelFont": "Liberation Sans", "labelFontSize": 16, "labelColor": "black", "labelAlign": "right", "labelOffset": -41.5, "labelLimit": 300, "rowPadding": 0.7, "columnPadding": 25}}
     }}
  ]}
],
"spacing": 46.5,
"resolve": {"scale": {"color": "independent", "strokeDash": "independent", "shape": "independent", "stroke": "independent", "fill": "independent"}, "legend": {"color": "independent", "strokeDash": "independent", "shape": "independent", "stroke": "independent", "fill": "independent"}},
"config": {
 "view": {"stroke": "black", "strokeWidth": 1},
 "axis": {"domain": false, "grid": false, "ticks": true, "tickSize": -6, "tickColor": "black", "tickWidth": 1, "labelFont": "Liberation Sans", "labelFontSize": 16, "labelColor": "black", "titleFont": "Liberation Sans", "titleFontSize": 16, "titleFontWeight": "normal", "titleColor": "black"}
}
}
